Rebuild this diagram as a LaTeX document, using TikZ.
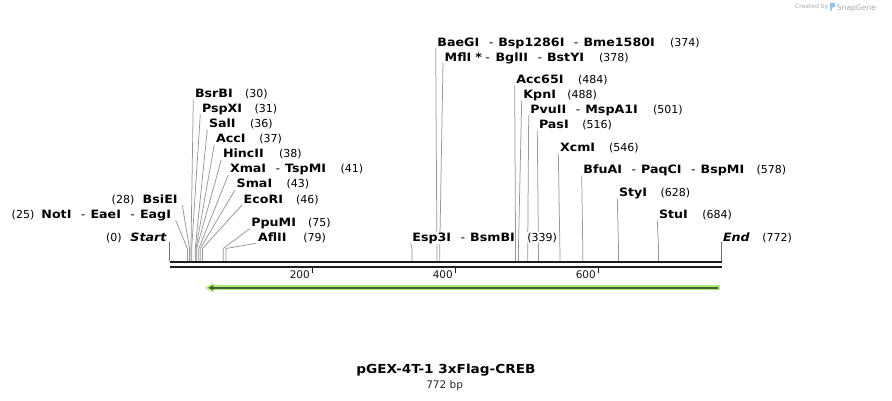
\documentclass[tikz,border=0pt]{standalone}
\usepackage{fontspec}
\setmainfont{DejaVu Sans}
\newfontfamily\labfont[FakeStretch=1.1]{DejaVu Sans}
\usetikzlibrary{calc,arrows.meta}
\pgfdeclarelayer{bg}
\pgfsetlayers{bg,main}
\definecolor{leadgray}{RGB}{150,150,150}
\definecolor{endgray}{RGB}{115,115,115}
\definecolor{basecol}{RGB}{30,30,30}
\definecolor{halocol}{RGB}{168,238,118}
\definecolor{corecol}{RGB}{72,94,52}
\definecolor{logogray}{RGB}{170,170,170}
\definecolor{logoblue}{RGB}{135,198,240}
\newcommand\enzsep{\hspace{9.5pt}{\mdseries -}\hspace{5pt}}
\newcommand\siteR[7]{%
  \coordinate (s#1) at ({169.5+0.715*#2},248.5);
  \coordinate (b#1) at ({169.5+0.715*#2},261);
  \node[enz] (n#1) at (#3,#4) {#5};
  \node[num] (m#1) at (#6,#4) {#7};
  \begin{pgfonlayer}{bg}\draw[leader] ($(n#1.base west)+(-1,2)$) -- (s#1) -- (b#1);\end{pgfonlayer}
}
\newcommand\siteL[7]{%
  \coordinate (s#1) at ({169.5+0.715*#2},248.5);
  \coordinate (b#1) at ({169.5+0.715*#2},261);
  \node[enz,anchor=base east] (n#1) at (#3,#4) {#5};
  \node[num,anchor=base east] (m#1) at (#6,#4) {#7};
  \begin{pgfonlayer}{bg}\draw[leader] ($(n#1.base east)+(4,2)$) -- (s#1) -- (b#1);\end{pgfonlayer}
}
\begin{document}
\begin{tikzpicture}[x=1pt,y=-1pt,
  enz/.style={font=\labfont\bfseries\fontsize{11.5}{13}\selectfont, inner sep=0.5pt, anchor=base west, fill=white, fill opacity=0.85, text opacity=1},
  num/.style={font=\fontsize{11}{13}\selectfont, inner sep=0.5pt, anchor=base west, fill=white, fill opacity=0.85, text opacity=1},
  leader/.style={draw=leadgray, line width=0.75pt},
  endline/.style={draw=endgray, line width=0.8pt},
  seqline/.style={draw=basecol, line width=2.5pt},
  tickmark/.style={draw=basecol, line width=1.8pt},
  ticklab/.style={font=\fontsize{10.5}{12}\selectfont, inner sep=0pt, anchor=base east, text=black!90},
]
\useasboundingbox (0,0) rectangle (892,400);

% sequence double line
\coordinate (ua) at (169.5,262.2); \coordinate (ub) at (722,262.2);
\coordinate (la) at (169.5,267.0); \coordinate (lb) at (722,267.0);
\draw[seqline] (ua) -- (ub);
\draw[seqline] (la) -- (lb);

% ticks
\foreach \p in {200,400,600}{
  \coordinate (t\p a) at ({169.5+0.715*\p},268);
  \coordinate (t\p b) at ({169.5+0.715*\p},273);
  \draw[tickmark] (t\p a) -- (t\p b);
  \node[ticklab] (tl\p) at ({169.5+0.715*\p-2.5},278) {\p};
}

% start / end
\coordinate (st1) at (169.5,242); \coordinate (st2) at (169.5,261);
\coordinate (en1) at (721.5,242); \coordinate (en2) at (721.5,261);
\draw[endline] (st1) -- (st2);
\draw[endline] (en1) -- (en2);
\node[enz] (nStart) at (129.7,241.3) {\itshape Start};
\node[num] (mStart) at (105.3,241.3) {(0)};
\node[enz] (nEnd) at (722.3,241.3) {\itshape End};
\node[num] (mEnd) at (761.7,241.3) {(772)};

% left cluster
\siteR{30}{30}{194.3}{97.3}{BsrBI}{244.3}{(30)}
\siteR{31}{31}{201.3}{112.4}{PspXI}{254}{(31)}
\siteR{36}{36}{208.3}{127.5}{SalI}{249.3}{(36)}
\siteR{37}{37}{215.3}{142.6}{AccI}{258.7}{(37)}
\siteR{38}{38}{222.3}{157.7}{HincII}{278.3}{(38)}
\siteR{41}{41}{229.3}{172.8}{XmaI\enzsep TspMI}{340}{(41)}
\siteR{43}{43}{236}{187.9}{SmaI}{286}{(43)}
\siteR{46}{46}{243}{203}{EcoRI}{295.3}{(46)}
\siteR{75}{75}{250.7}{226.7}{PpuMI}{307.3}{(75)}
\siteR{79}{79}{257.3}{241.3}{AflII}{302.7}{(79)}
\siteL{25}{25}{171.7}{218.3}{NotI\enzsep EaeI\enzsep EagI}{35}{(25)}
\siteL{28}{28}{178.3}{203}{BsiEI}{135}{(28)}

% middle / right
\siteR{339}{339}{411.7}{241.3}{Esp3I\enzsep BsmBI}{526.7}{(339)}
\siteR{374}{374}{436.7}{46}{BaeGI\enzsep Bsp1286I\enzsep Bme1580I}{669.3}{(374)}
\siteR{378}{378}{444}{61}{MflI\hspace{4pt}*\hspace{3.5pt}{\mdseries -}\hspace{5.5pt}BglII\enzsep BstYI}{598.3}{(378)}
\siteR{484}{484}{515.7}{83.3}{Acc65I}{577.3}{(484)}
\siteR{488}{488}{522.7}{98.3}{KpnI}{566.7}{(488)}
\siteR{501}{501}{529.7}{113.3}{PvuII\enzsep MspA1I}{652.3}{(501)}
\siteR{516}{516}{538.3}{128.5}{PasI}{581.7}{(516)}
\siteR{546}{546}{559.3}{151.3}{XcmI}{608.3}{(546)}
\siteR{578}{578}{582.7}{173.3}{BfuAI\enzsep PaqCI\enzsep BspMI}{756}{(578)}
\siteR{628}{628}{618.3}{196.5}{StyI}{660}{(628)}
\siteR{684}{684}{658.3}{218.5}{StuI}{701.7}{(684)}

% feature arrow
\coordinate (ar) at (720,287.8); \coordinate (al) at (205,287.8);
\coordinate (cr) at (717.7,287.8); \coordinate (cl) at (208.3,287.8);
\draw[draw=halocol, line width=5pt, -{Triangle[length=8pt,width=8.5pt]}] (ar) -- (al);
\draw[draw=corecol, fill=corecol, line width=2.2pt, -{Triangle[length=5pt,width=5pt]}] (cr) -- (cl);

% title
\node[font=\labfont\bfseries\fontsize{12.4}{14}\selectfont, inner sep=0pt, anchor=base] (title) at (446,373.5) {pGEX-4T-1 3xFlag-CREB};
\node[font=\fontsize{10.5}{12}\selectfont, inner sep=0pt, anchor=base, text=black!85] (len) at (444.6,388) {772 bp};

% logo
\node[font=\fontsize{6}{7}\selectfont, inner sep=0pt, anchor=base west, text=logogray] (created) at (795,8.7) {Created by};
\fill[logoblue, rounded corners=0.8pt] (830,2.8) -- (834.8,2.8) -- (834.8,7.2) -- (832.2,7.2) -- (832.2,10.8) -- (830,10.8) -- cycle;
\node[font=\fontsize{7.6}{9}\selectfont, inner sep=0pt, anchor=base west, text=logogray] (snap) at (836.7,10.2) {SnapGene};
\end{tikzpicture}
\end{document}
